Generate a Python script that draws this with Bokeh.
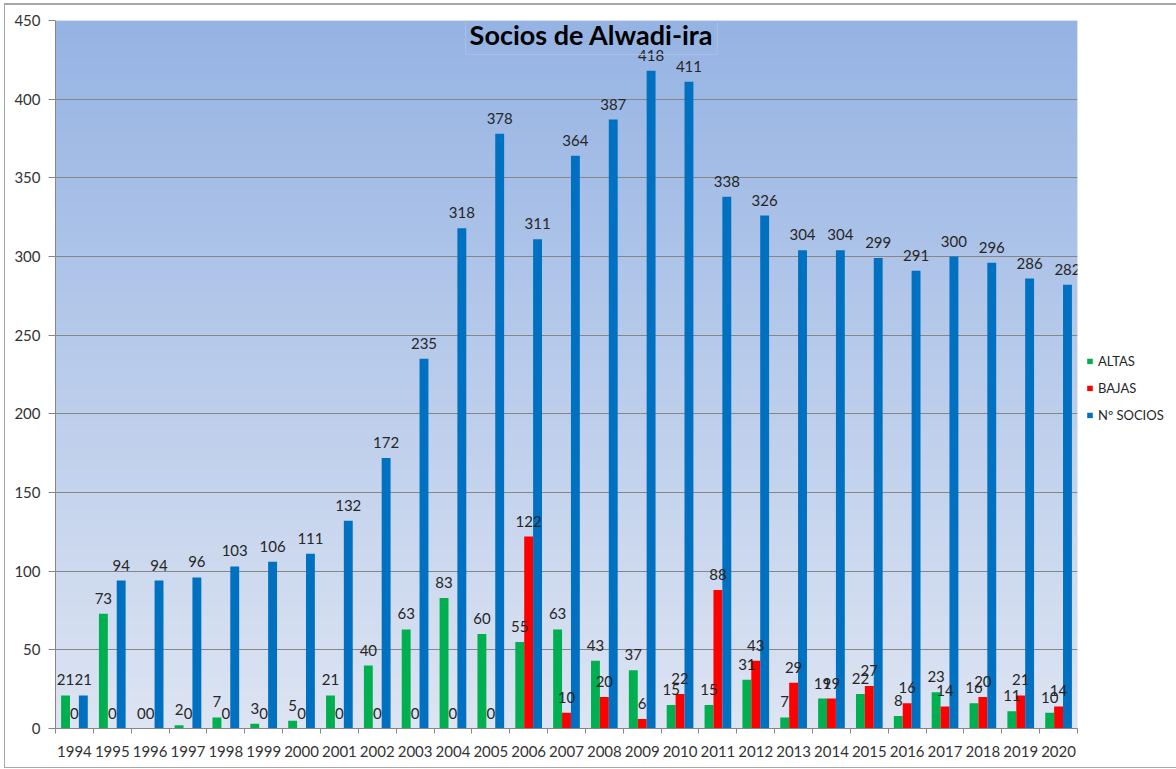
import numpy as np
from bokeh.plotting import figure
from bokeh.models import (ColumnDataSource, Range1d, FixedTicker, LabelSet, Label,
                          Legend, LegendItem)
from bokeh.transform import dodge
from bokeh.embed import file_html
from bokeh.resources import INLINE
from bokeh.core.properties import value

# ---------------- data ----------------
years = [str(y) for y in range(1994, 2021)]
altas = [21, 73, 0, 2, 7, 3, 5, 21, 40, 63, 83, 60, 55, 63, 43, 37, 15, 15, 31, 7, 19, 22, 8, 23, 16, 11, 10]
bajas = [0, 0, 0, 0, 0, 0, 0, 0, 0, 0, 0, 0, 122, 10, 20, 6, 22, 88, 43, 29, 19, 27, 16, 14, 20, 21, 14]
socios = [21, 94, 94, 96, 103, 106, 111, 132, 172, 235, 318, 378, 311, 364, 387, 418, 411, 338, 326,
          304, 304, 299, 291, 300, 296, 286, 282]
y_ticks = [0, 50, 100, 150, 200, 250, 300, 350, 400, 450]
series_names = ["ALTAS", "BAJAS", "Nº SOCIOS"]
title_text = "Socios de Alwadi-ira"

# ---------------- styling ----------------
C_ALTAS = "#00b050"
C_BAJAS = "#ff0000"
C_SOCIOS = "#0070c0"
GRID = "#868686"
FONT = "Lato"
BW = 0.235

pos = [i + 0.5 for i in range(len(years))]
src = ColumnDataSource(dict(
    pos=pos, year=years,
    altas=altas, bajas=bajas, socios=socios,
    altas_t=[str(v) for v in altas],
    bajas_t=[str(v) for v in bajas],
    socios_t=[str(v) for v in socios],
))

p = figure(frame_width=1022, frame_height=708, output_backend="svg", toolbar_location=None,
           x_range=Range1d(0, len(years)), y_range=Range1d(0, 450),
           min_border_left=55, min_border_right=0, min_border_top=20, min_border_bottom=41)
p.outline_line_color = None
p.background_fill_color = "#dde4f2"
p.border_fill_alpha = 0
# thin grey chart border drawn behind the (transparent) canvas border area
p.styles = {
    "background-color": "white",
    "background-image": ("linear-gradient(#a6a6a6,#a6a6a6), linear-gradient(#a6a6a6,#a6a6a6), "
                         "linear-gradient(#a6a6a6,#a6a6a6)"),
    "background-size": "1px 764px, 1200px 2px, 1200px 1px",
    "background-position": "4px 3px, 4px 3px, 4px 767px",
    "background-repeat": "no-repeat",
}

# gradient background of plot area
n = 256
frac = np.linspace(0, 1, n)
bottom_c = np.array([221, 228, 242], dtype=float)
top_c = np.array([149, 179, 227], dtype=float)
img = np.zeros((n, 1), dtype=np.uint32)
view = img.view(dtype=np.uint8).reshape((n, 1, 4))
for k in range(3):
    view[:, 0, k] = np.round(bottom_c[k] + (top_c[k] - bottom_c[k]) * frac).astype(np.uint8)
view[:, 0, 3] = 255
p.image_rgba(image=[img], x=0, y=0, dw=len(years), dh=450, level="image")

# bars
r_a = p.vbar(x=dodge("pos", -BW, range=p.x_range), top="altas", width=BW, source=src,
             fill_color=C_ALTAS, line_color=None)
r_b = p.vbar(x=dodge("pos", 0.0, range=p.x_range), top="bajas", width=BW, source=src,
             fill_color=C_BAJAS, line_color=None)
r_s = p.vbar(x=dodge("pos", BW, range=p.x_range), top="socios", width=BW, source=src,
             fill_color=C_SOCIOS, line_color=None)
# invisible, data-less renderer used only as a spacer row in the legend
r_spacer = p.vbar(x=[], top=[], width=BW, fill_alpha=0, line_alpha=0)

# data labels
for off, col in [(-BW, "altas"), (0.0, "bajas"), (BW, "socios")]:
    p.add_layout(LabelSet(x=dodge("pos", off, range=p.x_range), y=col, text=col + "_t",
                          source=src, y_offset=10, text_align="center",
                          text_baseline="alphabetic", text_font=value(FONT),
                          text_font_size="15px", text_color="#262626"))

# axes
p.yaxis.ticker = FixedTicker(ticks=y_ticks)
p.yaxis.axis_line_color = GRID
p.yaxis.major_tick_line_color = GRID
p.yaxis.major_tick_out = 7
p.yaxis.major_tick_in = 0
p.yaxis.minor_tick_line_color = None
p.yaxis.major_label_standoff = 8
p.yaxis.major_label_text_font = FONT
p.yaxis.major_label_text_font_size = "15px"
p.yaxis.major_label_text_color = "#333333"

p.xaxis.ticker = FixedTicker(ticks=pos, minor_ticks=list(range(len(years) + 1)))
p.xaxis.major_label_overrides = {pv: y for pv, y in zip(pos, years)}
p.xaxis.axis_line_color = GRID
p.xaxis.major_tick_line_color = None
p.xaxis.major_tick_out = 0
p.xaxis.major_tick_in = 0
p.xaxis.minor_tick_line_color = GRID
p.xaxis.minor_tick_out = 5
p.xaxis.minor_tick_in = 0
p.xaxis.major_label_standoff = 12
p.xaxis.major_label_text_font = FONT
p.xaxis.major_label_text_font_size = "15px"
p.xaxis.major_label_text_color = "#333333"

p.xgrid.grid_line_color = None
p.ygrid.ticker = FixedTicker(ticks=y_ticks)
p.ygrid.grid_line_color = GRID
p.ygrid.grid_line_width = 1.2

# title in a box
p.add_layout(Label(x=14.16, y=441.7, text=title_text, text_align="center",
                   text_baseline="middle", text_font=FONT, text_font_style="bold",
                   text_font_size="27px", text_color="black",
                   border_line_color="#a9bfe6", border_line_width=1,
                   background_fill_color=None,
                   padding=dict(left=4, right=4, top=5, bottom=4)))

# legend (outside the plot area, to the right)
legend = Legend(items=[LegendItem(label=" ", renderers=[r_spacer]),
                       LegendItem(label=series_names[0], renderers=[r_a]),
                       LegendItem(label=series_names[1], renderers=[r_b]),
                       LegendItem(label=series_names[2], renderers=[r_s])],
                location="center_left", orientation="vertical",
                glyph_width=7, glyph_height=7, label_height=20, spacing=7,
                label_standoff=5, padding=0, margin=9,
                border_line_color=None, background_fill_alpha=0,
                label_text_font=FONT, label_text_font_size="13px",
                label_text_color="#262626")
p.add_layout(legend, "right")

open("out.html", "w").write(file_html(p, INLINE))
